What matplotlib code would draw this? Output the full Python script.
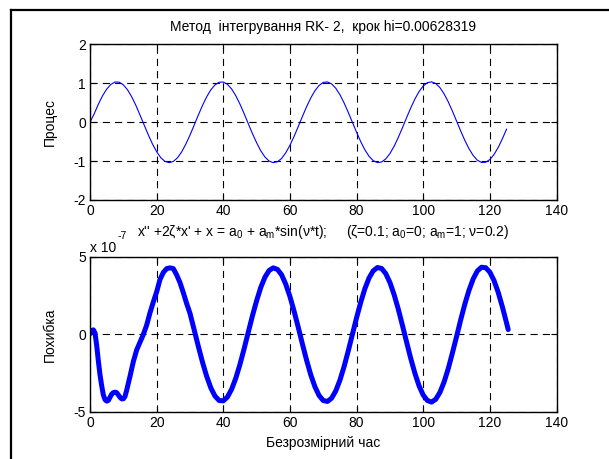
import matplotlib
matplotlib.use("Agg")
import matplotlib.pyplot as plt
from matplotlib.lines import Line2D

plt.rcParams['font.family'] = ['Liberation Sans', 'DejaVu Sans']
plt.rcParams['mathtext.fontset'] = 'custom'
plt.rcParams['mathtext.rm'] = 'Liberation Sans'
plt.rcParams['mathtext.it'] = 'Liberation Sans'
plt.rcParams['mathtext.sf'] = 'Liberation Sans'
plt.rcParams['mathtext.default'] = 'regular'
plt.rcParams['axes.unicode_minus'] = False

# Process x(t) (step 1.25)
t_proc = [i * 1.25 for i in range(101)]
x_proc = [0.0, 0.217, 0.462, 0.678, 0.852, 0.973, 1.034, 1.030, 0.962, 0.835,
          0.657, 0.436, 0.185, -0.071, -0.326, -0.561, -0.759, -0.913, -1.007, -1.040,
          -1.009, -0.915, -0.764, -0.564, -0.333, -0.076, 0.183, 0.431, 0.652, 0.832,
          0.960, 1.029, 1.034, 0.975, 0.855, 0.682, 0.466, 0.222, -0.037, -0.293,
          -0.527, -0.735, -0.895, -0.998, -1.039, -1.016, -0.932, -0.785, -0.594, -0.363,
          -0.110, 0.149, 0.399, 0.624, 0.810, 0.947, 1.024, 1.037, 0.986, 0.874,
          0.708, 0.497, 0.254, -0.002, -0.259, -0.500, -0.711, -0.877, -0.988, -1.038,
          -1.023, -0.944, -0.807, -0.621, -0.394, -0.145, 0.115, 0.367, 0.596, 0.789,
          0.932, 1.017, 1.039, 0.997, 0.892, 0.732, 0.527, 0.287, 0.032, -0.226,
          -0.469, -0.683, -0.857, -0.977, -1.034, -1.029, -0.960, -0.830, -0.649, -0.427,
          -0.179]

# Error (in units of 1e-7)
t_err = [0, 0.5, 1.0, 1.5, 2.0, 2.5, 3.0, 3.5, 4.0, 4.5, 5.0, 5.5, 6.0, 6.5, 7.0,
         7.5, 8.0, 8.5, 9.0, 9.5, 10.0, 10.5, 11, 12, 13, 14, 15, 16, 17, 18, 19,
         20, 21, 22, 23, 24, 25, 26, 27, 28, 29] + [30 + j * 1.25 for j in range(77)] + [125.5]
e_err = [0.05, 0.25, 0.3, 0.1, -0.7, -1.7, -2.6, -3.3, -3.9, -4.2, -4.3, -4.25,
         -4.05, -3.85, -3.75, -3.72, -3.75, -3.9, -4.05, -4.15, -4.15, -4.0, -3.6,
         -2.7, -1.75, -1.0, -0.5, 0.0, 0.6, 1.4, 2.1, 2.75, 3.55, 4.0, 4.25, 4.3,
         4.25, 3.85, 3.35, 2.7, 2.0,
         1.37, 0.31, -0.76, -1.78, -2.69, -3.44, -3.97, -4.26, -4.28, -4.03,
         -3.53, -2.82, -1.93, -0.92, 0.15, 1.21, 2.18, 3.04, 3.70, 4.13,
         4.30, 4.20, 3.85, 3.24, 2.45, 1.50, 0.46, -0.62, -1.66, -2.60,
         -3.37, -3.94, -4.26, -4.32, -4.11, -3.64, -2.95, -2.07, -1.06, 0.01,
         1.08, 2.08, 2.96, 3.65, 4.11, 4.32, 4.26, 3.93, 3.36, 2.58,
         1.65, 0.60, -0.48, -1.54, -2.50, -3.31, -3.91, -4.26, -4.36, -4.18,
         -3.74, -3.07, -2.21, -1.20, -0.14, 0.95, 1.97, 2.86, 3.59, 4.10,
         4.34, 4.31, 4.02, 3.48, 2.72, 1.79, 0.75, 0.32]

x_ticks = [0, 20, 40, 60, 80, 100, 120, 140]
y1_ticks = [-2, -1, 0, 1, 2]
y2_ticks = [-5, 0, 5]

fs = 10
fig = plt.figure(figsize=(6.09, 4.59), dpi=100)

# outer frame (left and top edges only, as in the cropped original)
fig.add_artist(Line2D([11 / 609, 11 / 609], [0, 1 - 10 / 459], transform=fig.transFigure,
                      color='black', lw=1.6))
fig.add_artist(Line2D([11 / 609, 1], [1 - 10 / 459, 1 - 10 / 459], transform=fig.transFigure,
                      color='black', lw=1.6))

ax1 = fig.add_axes([0.1478, 0.5643, 0.766, 0.3388])
ax2 = fig.add_axes([0.1478, 0.1024, 0.766, 0.3377])


def style(ax, yticks):
    ax.set_xlim(0, 140)
    ax.set_xticks(x_ticks)
    ax.set_yticks(yticks)
    ax.set_ylim(yticks[0], yticks[-1])
    ax.tick_params(direction='in', length=4, width=0.8, top=True, right=True,
                   labelsize=fs, pad=3, colors='black')
    ax.grid(True, color='black', linestyle=(0, (6.5, 4.5)), linewidth=0.8)
    for sp in ax.spines.values():
        sp.set_linewidth(1.0)
    ax.yaxis.set_label_coords(-0.07, 0.5)


ax1.plot(t_proc, x_proc, color='blue', lw=0.8)
style(ax1, y1_ticks)
ax1.set_ylabel('Процес', fontsize=fs)
ax1.set_title('Метод  інтегрування RK- 2,  крок hi=0.00628319', fontsize=fs, pad=10)

ax2.plot(t_err, e_err, color='blue', lw=3.6, solid_capstyle='round')
style(ax2, y2_ticks)
ax2.set_ylabel('Похибка', fontsize=fs)
ax2.set_xlabel('Безрозмірний час', fontsize=fs, labelpad=4)
ax2.set_title("x'' +2ζ*x' + x = a$_0$ + a$_m$*sin(ν*t);     (ζ=0.1; a$_0$=0; a$_m$=1; ν=0.2)",
              fontsize=fs, pad=15)
ax2.text(0.0, 1.015, 'x 10', transform=ax2.transAxes, fontsize=fs,
         ha='left', va='bottom')
ax2.text(0.058, 1.10, '-7', transform=ax2.transAxes, fontsize=fs * 0.75,
         ha='left', va='bottom')

fig.savefig('out.png', dpi=100)
